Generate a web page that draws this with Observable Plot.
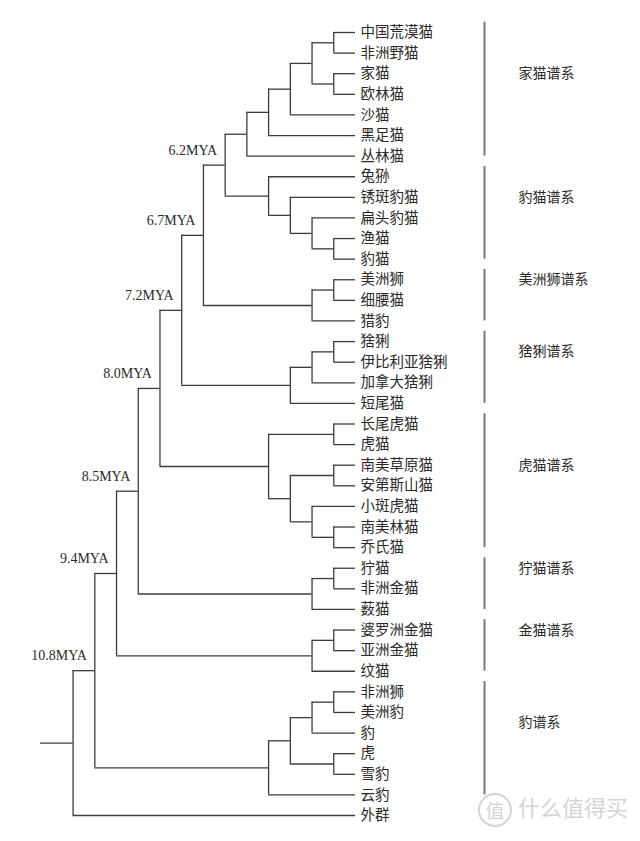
<!DOCTYPE html>
<html>
<head>
<meta charset="utf-8">
<script src="https://cdn.jsdelivr.net/npm/d3@7"></script>
<script src="https://cdn.jsdelivr.net/npm/@observablehq/plot@0.6"></script>
<style>
  html, body { margin: 0; padding: 0; background: #fff; }
  #wrap { position: relative; width: 640px; height: 841px; }
  #wm { position: absolute; left: 478px; top: 790px; color: #d4d4d4;
        font-family: "Noto Sans CJK SC", sans-serif; font-size: 22px; white-space: nowrap; }
  #wm .c { display: inline-block; width: 30px; height: 30px; line-height: 29px; text-align: center;
           border: 2px solid #d4d4d4; border-radius: 50%; font-size: 19px; margin-right: 6px; vertical-align: middle; }
</style>
</head>
<body>
<div id="wrap"></div>
<script>
// ---- data: lineages (nested clades, leaves are species names) ----
const domesticCat = [[[[["中国荒漠猫", "非洲野猫"], ["家猫", "欧林猫"]], "沙猫"], "黑足猫"], "丛林猫"];
const leopardCat = ["兔狲", ["锈斑豹猫", ["扁头豹猫", ["渔猫", "豹猫"]]]];
const puma = [["美洲狮", "细腰猫"], "猎豹"];
const lynx = [[["猞猁", "伊比利亚猞猁"], "加拿大猞猁"], "短尾猫"];
const ocelot = [["长尾虎猫", "虎猫"], [["南美草原猫", "安第斯山猫"], ["小斑虎猫", ["南美林猫", "乔氏猫"]]]];
const caracal = [["狞猫", "非洲金猫"], "薮猫"];
const bayCat = [["婆罗洲金猫", "亚洲金猫"], "纹猫"];
const panthera = [[[["非洲狮", "美洲豹"], "豹"], ["虎", "雪豹"]], "云豹"];
const outgroup = "外群";

const lineageTrees = [domesticCat, leopardCat, puma, lynx, ocelot, caracal, bayCat, panthera];
const lineageNames = ["家猫谱系", "豹猫谱系", "美洲狮谱系", "猞猁谱系", "虎猫谱系", "狞猫谱系", "金猫谱系", "豹谱系"];
// divergence times of the successive backbone joins (first join = 家猫+豹猫 lineages)
const divergenceLabels = ["6.2MYA", "6.7MYA", "7.2MYA", "8.0MYA", "8.5MYA", "9.4MYA", "10.8MYA"];

// ---- build tree ----
const backbone = lineageTrees.slice(1).reduce((acc, t) => [acc, t], lineageTrees[0]);
const treeData = [backbone, outgroup];
const root = d3.hierarchy(treeData, d => Array.isArray(d) ? d : null);

const leaves = root.leaves();
leaves.forEach((n, i) => { n.yy = i; });
root.eachAfter(n => {
  n.xx = n.height;
  if (n.children) {
    const c = n.children;
    n.yy = (c[0].yy + c[c.length - 1].yy) / 2;
    n.y1 = c[0].yy; n.y2 = c[c.length - 1].yy;
  }
});
const nodes = root.descendants();
const internal = nodes.filter(n => n.children);
const hEdges = nodes.filter(n => n.parent).map(n => ({x1: n.parent.xx, x2: n.xx, y: n.yy}));
const stem = [{x1: root.xx + 1.5, x2: root.xx, y: root.yy}];

// backbone nodes from first join (6.2) to last (10.8)
const bbNodes = [];
let cur = root.children[0];
while (cur && cur.children && bbNodes.length < divergenceLabels.length) { bbNodes.push(cur); cur = cur.children[0]; }
bbNodes.reverse();
const ageMarks = bbNodes.map((n, i) => ({x: n.xx, y: n.yy, label: divergenceLabels[i]}));

const lineages = lineageTrees.map((t, i) => {
  const node = nodes.find(n => n.data === t);
  const lv = node.leaves();
  return {name: lineageNames[i], first: lv[0].yy, last: lv[lv.length - 1].yy};
});

const cjk = "'Noto Sans CJK SC', sans-serif";
const lineColor = "#3c3c3c";

const chart = Plot.plot({
  width: 640,
  height: 841,
  marginLeft: 40,
  marginRight: 285,
  marginTop: 32,
  marginBottom: 26,
  x: {domain: [root.height + 1.5, 0], axis: null},
  y: {domain: [0, leaves.length - 1], reverse: true, axis: null},
  style: {background: "#fff", overflow: "visible"},
  marks: [
    Plot.ruleY(hEdges, {y: "y", x1: "x1", x2: "x2", stroke: lineColor, strokeWidth: 1.3}),
    Plot.ruleY(stem, {y: "y", x1: "x1", x2: "x2", stroke: lineColor, strokeWidth: 1.3}),
    Plot.ruleX(internal, {x: d => d.xx, y1: d => d.y1, y2: d => d.y2, stroke: lineColor, strokeWidth: 1.3}),
    Plot.text(leaves, {x: () => 0, y: d => d.yy, text: d => d.data, textAnchor: "start", dx: 5,
      fontFamily: cjk, fontSize: 14.5, fill: "#2a2a2a"}),
    Plot.text(ageMarks, {x: "x", y: "y", text: "label", textAnchor: "end", dx: -8, dy: -15,
      fontFamily: "'Liberation Serif', serif", fontSize: 14, fill: "#2a2a2a"}),
    Plot.ruleX(lineages, {x: () => 0, dx: 129, y1: d => d.first - 0.5, y2: d => d.last,
      stroke: "#7a7a7a", strokeWidth: 2}),
    Plot.text(lineages, {x: () => 0, dx: 163, y: d => (d.first + d.last) / 2 - 1, text: "name",
      textAnchor: "start", fontFamily: cjk, fontSize: 14, fill: "#2a2a2a"})
  ]
});
const wrap = document.getElementById("wrap");
wrap.appendChild(chart);
const wm = document.createElement("div");
wm.id = "wm";
wm.innerHTML = '<span class="c">值</span>什么值得买';
wrap.appendChild(wm);
</script>
</body>
</html>
